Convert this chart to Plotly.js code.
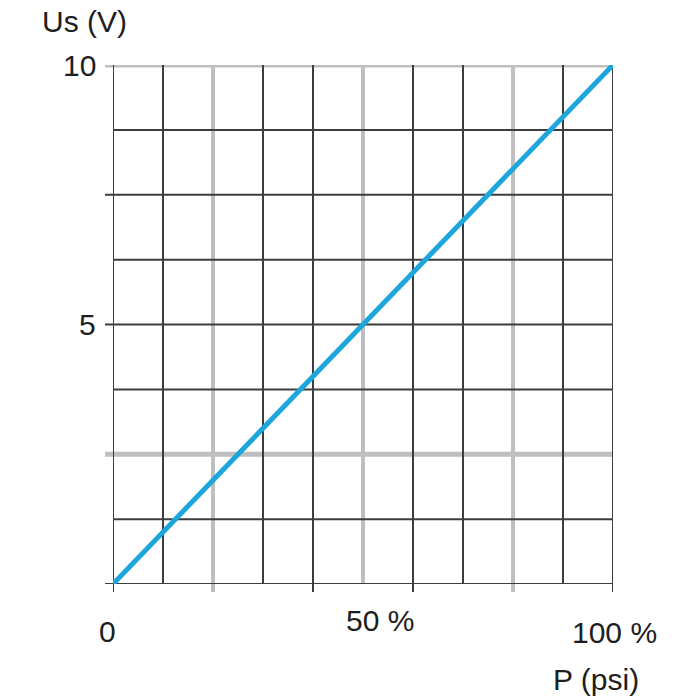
<!DOCTYPE html>
<html><head><meta charset="utf-8">
<script src="https://cdn.plot.ly/plotly-3.0.1.min.js"></script>
<style>html,body{margin:0;padding:0;background:#fff}#chart{width:700px;height:700px}</style>
</head><body><div id="chart"></div>
<script>
// ---- data ----
const pressurePct = [0, 100];
const outputVolts = [0, 10];
const xGridDark = [0, 10, 30, 40, 60, 70, 90, 100];
const xGridGray = [20, 50, 80];
const yGridDark = [0, 1.25, 3.75, 5, 6.25, 7.5, 8.75];
const yGridGray = [2.5, 10];
const xTickVals = [0, 20, 40, 60, 80, 100];
const yTickVals = [0, 2.5, 5, 7.5, 10];
const xLabelVals = [0, 50, 100];
const xLabelText = ['0', '50 %', '100 %'];
const yLabelVals = [5, 10];
const yLabelText = ['5', '10'];
const xTitle = 'P (psi)';
const yTitle = 'Us (V)';

// ---- styles / layout ----
const W = 700, H = 700;
const M = {l: 113, r: 87, t: 65, b: 116};
const plotW = W - M.l - M.r, plotH = H - M.t - M.b;
const dark = '#3d3d3d', gray = '#bfbfbf', txt = '#1e1e1e';
const tickPx = 8;
const FONT = 'Liberation Sans, Arial, sans-serif';
const fs = 30;

const shapes = [];
function vline(x, color, width) {
  shapes.push({type: 'line', layer: 'below', xref: 'x', yref: 'paper',
    x0: x, x1: x, y0: xTickVals.includes(x) ? -tickPx / plotH : 0, y1: 1,
    line: {color: color, width: width}});
}
function hline(y, color, width) {
  shapes.push({type: 'line', layer: 'below', xref: 'paper', yref: 'y',
    y0: y, y1: y, x0: yTickVals.includes(y) ? -tickPx / plotW : 0, x1: 1,
    line: {color: color, width: width}});
}
xGridGray.forEach(x => vline(x, gray, 4));
yGridGray.forEach(y => hline(y, gray, 5));
yGridDark.forEach(y => hline(y, dark, 2));
xGridDark.forEach(x => vline(x, dark, 2));

const xLabelShift = [[-6, -47], [17, -36], [1, -48]];
const annotations = [];
xLabelVals.forEach((v, i) => annotations.push({
  xref: 'x', yref: 'paper', x: v, y: 0, xanchor: 'center', yanchor: 'middle',
  xshift: xLabelShift[i][0], yshift: xLabelShift[i][1], showarrow: false,
  text: xLabelText[i], font: {family: FONT, size: fs, color: txt}
}));
yLabelVals.forEach((v, i) => annotations.push({
  xref: 'paper', yref: 'y', x: 0, y: v, xanchor: 'right', yanchor: 'middle',
  xshift: -15, showarrow: false,
  text: yLabelText[i], font: {family: FONT, size: fs, color: txt}
}));
annotations.push({xref: 'paper', yref: 'paper', x: (84 - M.l) / plotW, y: 1 + (M.t - 21) / plotH,
  xanchor: 'center', yanchor: 'middle', showarrow: false, text: yTitle,
  font: {family: FONT, size: fs, color: txt}});
annotations.push({xref: 'paper', yref: 'paper', x: (596 - M.l) / plotW, y: -(679 - (H - M.b)) / plotH,
  xanchor: 'center', yanchor: 'middle', showarrow: false, text: xTitle,
  font: {family: FONT, size: fs, color: txt}});

const trace = {x: pressurePct, y: outputVolts, type: 'scatter', mode: 'lines',
  line: {color: '#1ca6dc', width: 5}, hoverinfo: 'skip'};

const layout = {
  width: W, height: H, margin: M, paper_bgcolor: '#fff', plot_bgcolor: '#fff',
  showlegend: false,
  xaxis: {range: [0, 100], showgrid: false, zeroline: false, showline: false, showticklabels: false, ticks: ''},
  yaxis: {range: [0, 10], showgrid: false, zeroline: false, showline: false, showticklabels: false, ticks: ''},
  shapes: shapes, annotations: annotations
};
Plotly.newPlot('chart', [trace], layout, {displayModeBar: false, staticPlot: true});
</script></body></html>
